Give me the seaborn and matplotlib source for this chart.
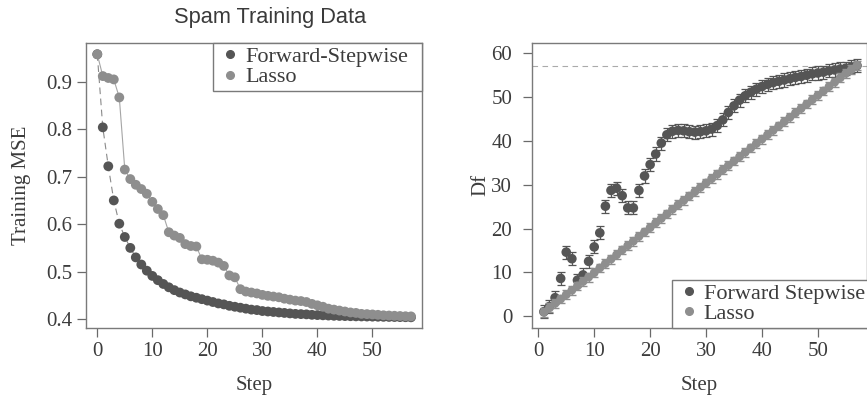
import numpy as np
import pandas as pd
import matplotlib
matplotlib.use("Agg")
import matplotlib.pyplot as plt
from matplotlib.lines import Line2D
import seaborn as sns

# ---------------- data ----------------
steps_left = list(range(0, 58))
fs_mse = [0.958, 0.804, 0.722, 0.650, 0.601, 0.573, 0.550, 0.530, 0.515, 0.502,
          0.491, 0.482, 0.474, 0.467, 0.461, 0.456, 0.452, 0.448, 0.445, 0.442,
          0.439, 0.436, 0.433, 0.431, 0.428, 0.426, 0.424, 0.422, 0.420, 0.419,
          0.417, 0.416, 0.415, 0.414, 0.413, 0.412, 0.411, 0.4105, 0.410, 0.409,
          0.4085, 0.408, 0.4075, 0.407, 0.4067, 0.4064, 0.4061, 0.4058, 0.4056, 0.4054,
          0.4052, 0.405, 0.4048, 0.4046, 0.4044, 0.4042, 0.404, 0.4038]
lasso_mse = [0.958, 0.912, 0.908, 0.905, 0.867, 0.715, 0.695, 0.683, 0.674, 0.664,
             0.647, 0.632, 0.619, 0.583, 0.576, 0.571, 0.558, 0.554, 0.553, 0.526,
             0.525, 0.523, 0.519, 0.512, 0.492, 0.488, 0.463, 0.458, 0.456, 0.454,
             0.451, 0.449, 0.4475, 0.446, 0.443, 0.441, 0.439, 0.438, 0.436, 0.432,
             0.429, 0.426, 0.422, 0.420, 0.418, 0.416, 0.414, 0.413, 0.411, 0.4105,
             0.4098, 0.409, 0.408, 0.4075, 0.407, 0.4065, 0.406, 0.4057]

steps_right = list(range(1, 58))
fs_df = [1.0, 2.2, 4.2, 8.6, 14.6, 13.1, 8.2, 9.4, 12.5, 15.8,
         19.0, 25.1, 28.7, 29.2, 27.5, 24.7, 24.7, 28.7, 32.0, 34.6,
         37.0, 39.5, 41.4, 42.2, 42.4, 42.3, 42.1, 42.0, 42.1, 42.3,
         42.7, 43.5, 44.8, 46.5, 48.0, 49.3, 50.3, 51.1, 51.8, 52.4,
         52.9, 53.3, 53.6, 53.9, 54.2, 54.5, 54.7, 55.0, 55.3, 55.5,
         55.7, 56.0, 56.2, 56.4, 56.6, 56.9, 57.2]
fs_df_err = [1.5] * 57
lasso_df = [0.9, 1.9, 2.9, 3.9, 4.9, 5.9, 6.9, 7.9, 8.9, 9.9,
            11.0, 12.0, 13.0, 14.0, 15.1, 16.1, 17.1, 18.2, 19.2, 20.2,
            21.3, 22.3, 23.3, 24.4, 25.4, 26.4, 27.4, 28.4, 29.4, 30.4,
            31.4, 32.4, 33.4, 34.4, 35.4, 36.4, 37.4, 38.4, 39.4, 40.4,
            41.4, 42.4, 43.4, 44.4, 45.4, 46.4, 47.4, 48.4, 49.4, 50.4,
            51.4, 52.4, 53.4, 54.4, 55.4, 56.3, 57.2]
lasso_df_err = [1.0] * 57
total_vars = 57

labels_left = ["Forward-Stepwise", "Lasso"]
labels_right = ["Forward Stepwise", "Lasso"]

# ---------------- style ----------------
sns.set_style("white")
plt.rcParams["font.family"] = ["Liberation Serif", "DejaVu Serif"]
plt.rcParams["axes.edgecolor"] = "#7a7a7a"
plt.rcParams["axes.linewidth"] = 1.0

c_fs = "#555555"
c_la = "#8e8e8e"
c_line_fs = "#8a8a8a"
c_line_la = "#a5a5a5"
txt_col = "#3c3c3c"

fig = plt.figure(figsize=(8.67, 3.99), dpi=100)
W, H = 867.0, 399.0
ax1 = fig.add_axes([86 / W, 1 - 327.5 / H, (422 - 86) / W, (327.5 - 43) / H])
ax2 = fig.add_axes([531.7 / W, 1 - 327.5 / H, (866.5 - 531.7) / W, (327.5 - 43) / H])

# ---------------- left panel ----------------
dl = pd.DataFrame({
    "Step": steps_left * 2,
    "MSE": fs_mse + lasso_mse,
    "Method": [labels_left[0]] * len(steps_left) + [labels_left[1]] * len(steps_left),
})
sns.lineplot(data=dl[dl.Method == labels_left[0]], x="Step", y="MSE", ax=ax1,
             color=c_line_fs, lw=0.8, linestyle=(0, (6, 4)), zorder=1)
sns.lineplot(data=dl[dl.Method == labels_left[1]], x="Step", y="MSE", ax=ax1,
             color=c_line_la, lw=0.8, zorder=1)
sns.scatterplot(data=dl, x="Step", y="MSE", hue="Method",
                palette={labels_left[0]: c_fs, labels_left[1]: c_la},
                s=50, edgecolor="none", linewidth=0, ax=ax1, legend=False, zorder=3)

ax1.set_xlim(-2.05, 59.0)
ax1.set_ylim(0.3823, 0.9817)
ax1.set_xticks([0, 10, 20, 30, 40, 50])
ax1.set_yticks([0.4, 0.5, 0.6, 0.7, 0.8, 0.9])
ax1.set_yticklabels(["0.4", "0.5", "0.6", "0.7", "0.8", "0.9"])
ax1.set_xlabel("Step", fontsize=15, color=txt_col, labelpad=11)
ax1.set_ylabel("Training MSE", fontsize=15, color=txt_col, labelpad=11)

leg_kw = dict(borderaxespad=0, fontsize=16, frameon=True, fancybox=False,
              handletextpad=0.0, handlelength=1.3, borderpad=0.15,
              labelspacing=0.0, labelcolor=txt_col, mode="expand")

h1 = [Line2D([], [], marker="o", ls="none", color=c_fs, markersize=5.5),
      Line2D([], [], marker="o", ls="none", color=c_la, markersize=5.5)]
leg1 = ax1.legend(h1, labels_left, loc="upper right",
                  bbox_to_anchor=(0.377, 0.0, 0.623, 1.0), **leg_kw)
leg1.get_frame().set_edgecolor("#7a7a7a")
leg1.get_frame().set_linewidth(1.0)
leg1.get_frame().set_alpha(1)

# ---------------- right panel ----------------
dr = pd.DataFrame({
    "Step": steps_right * 2,
    "Df": fs_df + lasso_df,
    "Method": [labels_right[0]] * len(steps_right) + [labels_right[1]] * len(steps_right),
})
ax2.axhline(total_vars, color="#aaaaaa", lw=0.8, linestyle=(0, (5, 4)), zorder=0)
ax2.errorbar(steps_right, fs_df, yerr=fs_df_err, fmt="none", ecolor=c_fs,
             elinewidth=0.9, capsize=3.2, capthick=0.9, zorder=2)
sns.scatterplot(data=dr[dr.Method == labels_right[0]], x="Step", y="Df",
                color=c_fs, s=48, edgecolor="none", linewidth=0, ax=ax2,
                legend=False, zorder=3)
ax2.errorbar(steps_right, lasso_df, yerr=lasso_df_err, fmt="none", ecolor=c_la,
             elinewidth=1.0, capsize=2.8, capthick=1.0, zorder=4)
sns.scatterplot(data=dr[dr.Method == labels_right[1]], x="Step", y="Df",
                color=c_la, s=40, edgecolor="none", linewidth=0, ax=ax2,
                legend=False, zorder=5)

ax2.set_xlim(-1.18, 58.7)
ax2.set_ylim(-2.6, 62.35)
ax2.set_xticks([0, 10, 20, 30, 40, 50])
ax2.set_yticks([0, 10, 20, 30, 40, 50, 60])
ax2.set_xlabel("Step", fontsize=15, color=txt_col, labelpad=11)
ax2.set_ylabel("Df", fontsize=15, color=txt_col, labelpad=0.5)

h2 = [Line2D([], [], marker="o", ls="none", color=c_fs, markersize=5.5),
      Line2D([], [], marker="o", ls="none", color=c_la, markersize=5.5)]
leg2 = ax2.legend(h2, labels_right, loc="lower right",
                  bbox_to_anchor=(0.418, 0.0, 0.61, 1.0), **leg_kw)
leg2.get_frame().set_edgecolor("#7a7a7a")
leg2.get_frame().set_linewidth(1.0)
leg2.get_frame().set_alpha(1)
leg2.set_zorder(10)

for ax in (ax1, ax2):
    for sp in ax.spines.values():
        sp.set_visible(True)
        sp.set_color("#7a7a7a")
        sp.set_linewidth(1.0)
    ax.tick_params(axis="both", which="major", direction="out", length=6.5,
                   width=0.9, color="#6a6a6a", labelsize=15, labelcolor=txt_col,
                   bottom=True, left=True, pad=4)
ax1.tick_params(axis="y", pad=3.5)
ax2.tick_params(axis="y", pad=7.5)

fig.text(270 / W, 1 - 18 / H, "Spam Training Data", fontsize=15.7,
         family=["Liberation Sans", "DejaVu Sans"], color="#3a3a3a",
         ha="center", va="center")

fig.savefig("out.png", dpi=100)
